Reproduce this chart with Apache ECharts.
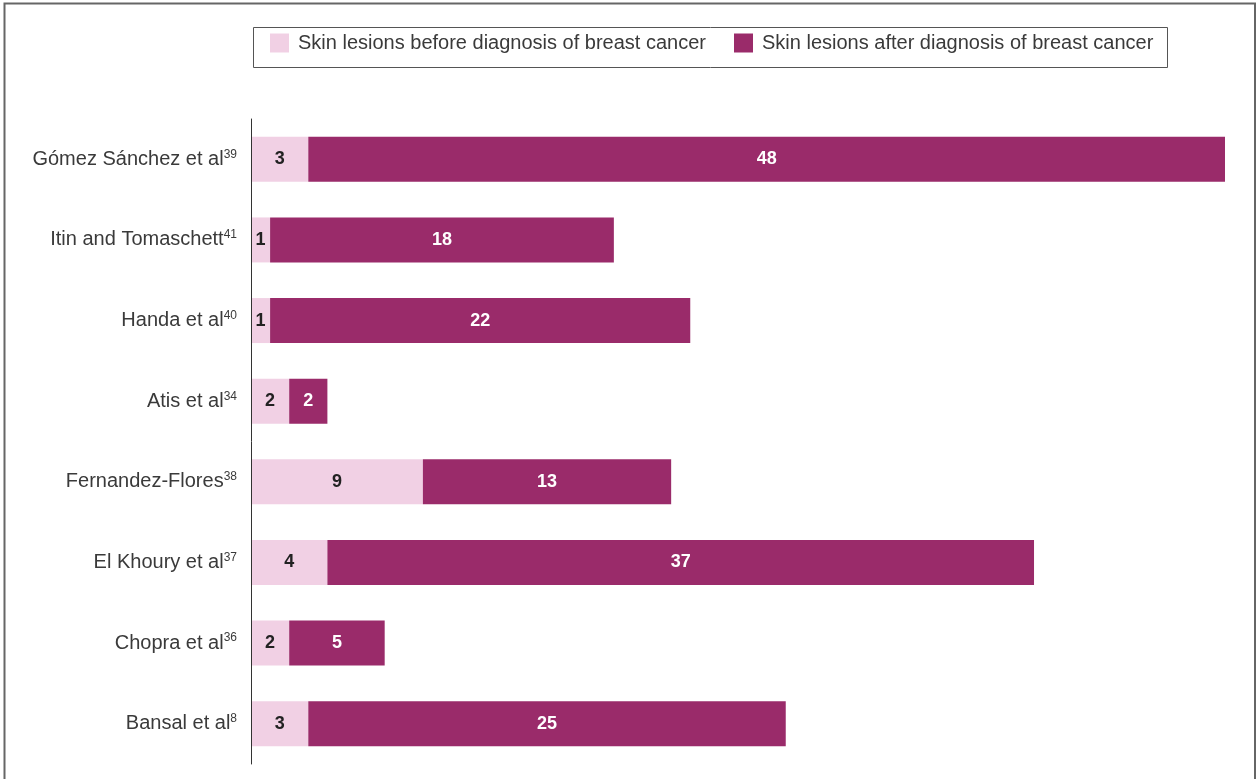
<!DOCTYPE html>
<html>
<head>
<meta charset="utf-8">
<script src="https://cdn.jsdelivr.net/npm/echarts@6/dist/echarts.min.js"></script>
<style>html,body{margin:0;padding:0;background:#fff;}#c{width:1257px;height:779px;}</style>
</head>
<body>
<div id="c"></div>
<script>
const studies = ['Gómez Sánchez et al', 'Itin and Tomaschett', 'Handa et al', 'Atis et al', 'Fernandez-Flores', 'El Khoury et al', 'Chopra et al', 'Bansal et al'];
const refs = ['39', '41', '40', '34', '38', '37', '36', '8'];
const before = [3, 1, 1, 2, 9, 4, 2, 3];
const after = [48, 18, 22, 2, 13, 37, 5, 25];
const seriesNames = ['Skin lesions before diagnosis of breast cancer', 'Skin lesions after diagnosis of breast cancer'];

const font = '"Liberation Sans", Arial, sans-serif';
const chart = echarts.init(document.getElementById('c'), null, {renderer: 'canvas'});
chart.setOption({
  animation: false,
  backgroundColor: '#fff',
  textStyle: {fontFamily: font},
  graphic: [
    {type: 'rect', shape: {x: 4.5, y: 3.5, width: 1250.5, height: 900}, style: {fill: 'none', stroke: '#666', lineWidth: 2}, z: 0},
    {type: 'rect', shape: {x: 253.5, y: 27.5, width: 914, height: 40}, style: {fill: 'none', stroke: '#555', lineWidth: 1}, z: 0}
  ],
  legend: {
    left: 270, top: 33, padding: 0,
    itemWidth: 19, itemHeight: 19, itemGap: 28,
    icon: 'rect',
    textStyle: {fontSize: 20, color: '#3a3a3a', fontFamily: font, padding: [2, 0, 0, 4]},
    data: seriesNames
  },
  grid: {left: 251, top: 119, width: 974, height: 645, containLabel: false},
  xAxis: {type: 'value', min: 0, max: 51, show: false},
  yAxis: {
    type: 'category', inverse: true, data: studies, z: 5,
    axisLine: {show: true, lineStyle: {color: '#333', width: 1}},
    axisTick: {show: false},
    axisLabel: {
      margin: 14,
      formatter: function (v, i) { return v + '{sup|' + refs[i] + '}'; },
      color: '#3a3a3a', fontSize: 20, fontFamily: font,
      rich: {sup: {fontSize: 12, color: '#3a3a3a', verticalAlign: 'top', padding: [0, 0, 10, 0], fontFamily: font}}
    }
  },
  series: [
    {
      name: seriesNames[0], type: 'bar', stack: 't', data: before, barWidth: 45,
      itemStyle: {color: '#F1D0E4'},
      label: {show: true, position: 'inside', color: '#222', fontWeight: 'bold', fontSize: 18, fontFamily: font}
    },
    {
      name: seriesNames[1], type: 'bar', stack: 't', data: after, barWidth: 45,
      itemStyle: {color: '#9A2B6A'},
      label: {show: true, position: 'inside', color: '#fff', fontWeight: 'bold', fontSize: 18, fontFamily: font}
    }
  ]
});
</script>
</body>
</html>
